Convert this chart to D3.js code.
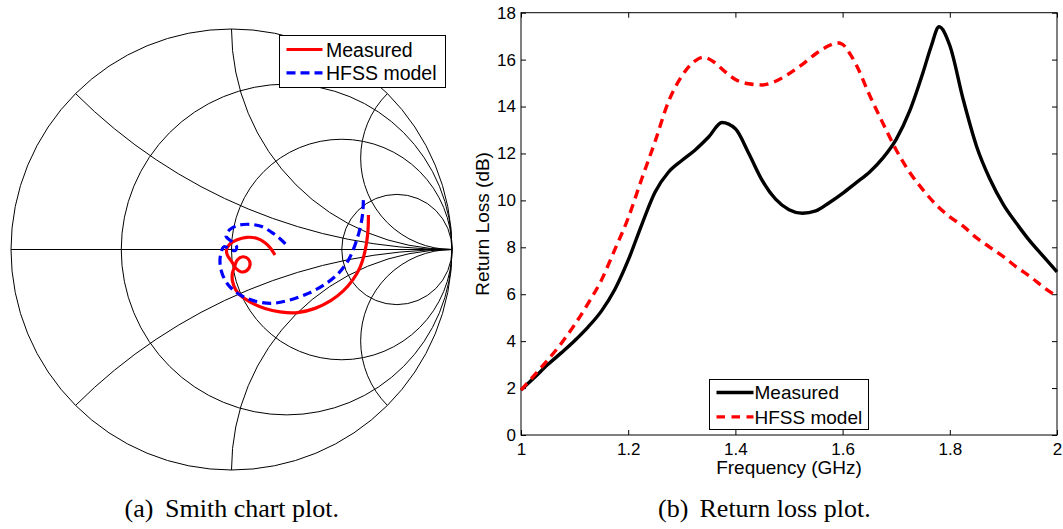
<!DOCTYPE html>
<html>
<head>
<meta charset="utf-8">
<script src="https://cdn.jsdelivr.net/npm/d3@7"></script>
<style>
  html, body { margin: 0; padding: 0; background: #fff; }
  svg { display: block; }
  text { font-family: "Liberation Sans", Arial, Helvetica, sans-serif; fill: #000; }
  .caption { font-family: "Liberation Serif", "Times New Roman", serif; }
</style>
</head>
<body>
<svg id="fig" width="1063" height="529"></svg>
<script>
// ---------- Smith chart data (reflection coefficient, real / imaginary) ----------
const smithResistance = [1 / 3, 1, 3];
const smithReactance = [Math.SQRT2 - 1, 1, Math.SQRT2 + 1];

const measuredGammaRe = [0.621, 0.618, 0.605, 0.583, 0.550, 0.507, 0.450, 0.379, 0.299, 0.220,
  0.152, 0.096, 0.051, 0.020, 0.005, 0.004, 0.013, 0.026, 0.051, 0.076, 0.084, 0.069, 0.042,
  0.020, 0.001, -0.019, -0.022, -0.007, 0.023, 0.069, 0.114, 0.152, 0.178, 0.197];
const measuredGammaIm = [0.156, 0.073, -0.010, -0.081, -0.138, -0.188, -0.232, -0.267, -0.286, -0.283,
  -0.268, -0.244, -0.217, -0.184, -0.146, -0.108, -0.081, -0.048, -0.033, -0.043, -0.070, -0.096, -0.101,
  -0.085, -0.055, -0.025, 0.001, 0.025, 0.043, 0.055, 0.051, 0.031, 0.005, -0.025];

const hfssGammaRe = [0.598, 0.595, 0.583, 0.560, 0.530, 0.485, 0.424, 0.348, 0.265, 0.182,
  0.099, 0.039, -0.010, -0.040, -0.052, -0.048, -0.034, -0.007, 0.017, 0.023, 0.001, -0.025,
  -0.007, 0.031, 0.084, 0.137, 0.182, 0.220, 0.253];
const hfssGammaIm = [0.224, 0.164, 0.096, 0.020, -0.048, -0.108, -0.158, -0.199, -0.229, -0.244,
  -0.232, -0.206, -0.166, -0.116, -0.063, -0.017, 0.013, 0.002, -0.005, 0.013, 0.036, 0.061,
  0.091, 0.110, 0.114, 0.104, 0.078, 0.049, 0.017];

// ---------- Return loss data ----------
const measuredFreq = [1.00, 1.025, 1.05, 1.075, 1.10, 1.125, 1.15, 1.175, 1.20, 1.225, 1.25, 1.275,
  1.30, 1.325, 1.35, 1.375, 1.40, 1.425, 1.45, 1.475, 1.50, 1.525, 1.55, 1.575, 1.60, 1.625, 1.65,
  1.675, 1.70, 1.725, 1.75, 1.765, 1.78, 1.80, 1.825, 1.85, 1.875, 1.90, 1.925, 1.95, 1.975, 2.00];
const measuredRL = [1.92, 2.45, 3.0, 3.5, 4.02, 4.6, 5.28, 6.2, 7.45, 8.95, 10.35, 11.2,
  11.7, 12.15, 12.7, 13.32, 13.05, 12.0, 10.85, 10.05, 9.6, 9.45, 9.55, 9.9, 10.3, 10.75, 11.2,
  11.8, 12.6, 13.8, 15.45, 16.55, 17.4, 16.6, 14.3, 12.3, 10.9, 9.82, 9.0, 8.25, 7.6, 6.95];

const hfssFreq = [1.00, 1.025, 1.05, 1.075, 1.10, 1.125, 1.15, 1.175, 1.20, 1.225, 1.25, 1.275,
  1.30, 1.325, 1.34, 1.36, 1.38, 1.40, 1.425, 1.45, 1.475, 1.50, 1.525, 1.55, 1.575, 1.59, 1.60,
  1.615, 1.625, 1.65, 1.675, 1.70, 1.725, 1.75, 1.775, 1.80, 1.825, 1.85, 1.875, 1.90, 1.925, 1.95,
  1.975, 2.00];
const hfssRL = [1.92, 2.55, 3.2, 3.9, 4.7, 5.6, 6.6, 7.9, 9.25, 10.9, 12.5, 14.2,
  15.3, 15.95, 16.1, 15.9, 15.5, 15.15, 14.97, 14.92, 15.08, 15.4, 15.8, 16.25, 16.6, 16.72, 16.65,
  16.2, 15.8, 14.5, 13.3, 12.15, 11.2, 10.45, 9.8, 9.3, 8.9, 8.4, 8.0, 7.6, 7.15, 6.75,
  6.3, 5.9];

const xTickValues = [1, 1.2, 1.4, 1.6, 1.8, 2];
const xTickLabels = ["1", "1.2", "1.4", "1.6", "1.8", "2"];
const yTickValues = [0, 2, 4, 6, 8, 10, 12, 14, 16, 18];
const yTickLabels = ["0", "2", "4", "6", "8", "10", "12", "14", "16", "18"];

const seriesNames = ["Measured", "HFSS model"];

const svg = d3.select("#fig");

// =====================================================================
// (a) Smith chart
// =====================================================================
const smith = svg.append("g");
const gx = d3.scaleLinear().domain([-1, 1]).range([11, 452]);
const gy = d3.scaleLinear().domain([-1, 1]).range([470, 29]);
const unit = gx(1) - gx(0);

smith.append("clipPath").attr("id", "unitDisk")
  .append("circle").attr("cx", gx(0)).attr("cy", gy(0)).attr("r", unit);

const grid = smith.append("g").attr("fill", "none").attr("stroke", "#000").attr("stroke-width", 1);

// reactance arcs (circles centred at (1, 1/x), clipped to the unit disk)
const reactAll = smithReactance.flatMap(x => [x, -x]);
grid.append("g").attr("clip-path", "url(#unitDisk)")
  .selectAll("circle").data(reactAll).join("circle")
  .attr("cx", gx(1))
  .attr("cy", d => gy(1 / d))
  .attr("r", d => unit / Math.abs(d));

// real axis
grid.append("line")
  .attr("x1", gx(-1)).attr("x2", gx(1))
  .attr("y1", gy(0)).attr("y2", gy(0));

// constant resistance circles
grid.selectAll("circle.res").data(smithResistance).join("circle")
  .attr("class", "res")
  .attr("cx", d => gx(d / (1 + d)))
  .attr("cy", gy(0))
  .attr("r", d => unit / (1 + d));

// outer boundary |Gamma| = 1
grid.append("circle").attr("cx", gx(0)).attr("cy", gy(0)).attr("r", unit);

const smithLine = d3.line()
  .x(d => gx(d[0])).y(d => gy(d[1]))
  .curve(d3.curveCatmullRom.alpha(0.5));

const measuredGamma = d3.zip(measuredGammaRe, measuredGammaIm);
const hfssGamma = d3.zip(hfssGammaRe, hfssGammaIm);

smith.append("path").datum(measuredGamma)
  .attr("d", smithLine).attr("fill", "none")
  .attr("stroke", "#ff0000").attr("stroke-width", 3.2)
  .attr("stroke-linejoin", "round");

smith.append("path").datum(hfssGamma)
  .attr("d", smithLine).attr("fill", "none")
  .attr("stroke", "#0000ff").attr("stroke-width", 3.2)
  .attr("stroke-dasharray", "9,5");

// legend
const smithLeg = smith.append("g").attr("transform", "translate(279.5,35.5)");
smithLeg.append("rect").attr("width", 166).attr("height", 52)
  .attr("fill", "#fff").attr("stroke", "#000").attr("stroke-width", 1);
const smithLegStyles = [
  { color: "#ff0000", dash: null },
  { color: "#0000ff", dash: "9,5" }
];
seriesNames.forEach((name, i) => {
  const yy = 14 + i * 23.4;
  smithLeg.append("line")
    .attr("x1", 7).attr("x2", 43).attr("y1", yy).attr("y2", yy)
    .attr("stroke", smithLegStyles[i].color).attr("stroke-width", 3.2)
    .attr("stroke-dasharray", smithLegStyles[i].dash);
  smithLeg.append("text")
    .attr("x", 46.5).attr("y", yy).attr("dy", "0.36em")
    .attr("font-size", 19.5).text(name);
});

// =====================================================================
// (b) Return loss plot
// =====================================================================
const plot = svg.append("g");
const x = d3.scaleLinear().domain([1, 2]).range([521, 1057]);
const y = d3.scaleLinear().domain([0, 18]).range([435, 12.7]);
const tickFont = 17;

const xAxis = plot.append("g").attr("transform", `translate(0,${y(0)})`)
  .call(d3.axisBottom(x).tickValues(xTickValues)
    .tickFormat((d, i) => xTickLabels[i])
    .tickSizeInner(-5).tickSizeOuter(0).tickPadding(8));
const yAxis = plot.append("g").attr("transform", `translate(${x(1)},0)`)
  .call(d3.axisLeft(y).tickValues(yTickValues)
    .tickFormat((d, i) => yTickLabels[i])
    .tickSizeInner(-5).tickSizeOuter(0).tickPadding(5));
const xTop = plot.append("g").attr("transform", `translate(0,${y(18)})`)
  .call(d3.axisTop(x).tickValues(xTickValues).tickFormat("")
    .tickSizeInner(-5).tickSizeOuter(0));
const yRight = plot.append("g").attr("transform", `translate(${x(2)},0)`)
  .call(d3.axisRight(y).tickValues(yTickValues).tickFormat("")
    .tickSizeInner(-5).tickSizeOuter(0));

[xAxis, yAxis, xTop, yRight].forEach(a => {
  a.select(".domain").remove();
  a.selectAll("line").attr("stroke", "#000");
  a.selectAll("text")
    .attr("font-size", tickFont)
    .attr("font-family", "'Liberation Sans', Arial, sans-serif")
    .attr("fill", "#000");
});

plot.append("rect")
  .attr("x", x(1)).attr("y", y(18))
  .attr("width", x(2) - x(1)).attr("height", y(0) - y(18))
  .attr("fill", "none").attr("stroke", "#000").attr("stroke-width", 1);

const rlLine = d3.line()
  .x(d => x(d[0])).y(d => y(d[1]))
  .curve(d3.curveMonotoneX);

plot.append("path").datum(d3.zip(measuredFreq, measuredRL))
  .attr("d", rlLine).attr("fill", "none")
  .attr("stroke", "#000").attr("stroke-width", 3.4)
  .attr("stroke-linejoin", "round");

plot.append("path").datum(d3.zip(hfssFreq, hfssRL))
  .attr("d", rlLine).attr("fill", "none")
  .attr("stroke", "#ff0000").attr("stroke-width", 3.4)
  .attr("stroke-dasharray", "9,6");

// axis titles
plot.append("text")
  .attr("x", (x(1) + x(2)) / 2).attr("y", 474)
  .attr("text-anchor", "middle").attr("font-size", 19)
  .text("Frequency (GHz)");
plot.append("text")
  .attr("transform", `translate(489,${(y(0) + y(18)) / 2}) rotate(-90)`)
  .attr("text-anchor", "middle").attr("font-size", 19)
  .text("Return Loss (dB)");

// legend
const rlLeg = plot.append("g").attr("transform", "translate(709.5,379.5)");
rlLeg.append("rect").attr("width", 159).attr("height", 50)
  .attr("fill", "#fff").attr("stroke", "#000").attr("stroke-width", 1);
const rlLegStyles = [
  { color: "#000", dash: null },
  { color: "#ff0000", dash: "8.5,6.5" }
];
seriesNames.forEach((name, i) => {
  const yy = 13 + i * 24.4;
  rlLeg.append("line")
    .attr("x1", 7).attr("x2", 44).attr("y1", yy).attr("y2", yy)
    .attr("stroke", rlLegStyles[i].color).attr("stroke-width", 3.4)
    .attr("stroke-dasharray", rlLegStyles[i].dash);
  rlLeg.append("text")
    .attr("x", 45).attr("y", yy).attr("dy", "0.36em")
    .attr("font-size", 19).text(name);
});

// =====================================================================
// captions
// =====================================================================
const captions = [
  { tag: "(a)", text: "Smith chart plot.", x0: 124.5, x1: 165 },
  { tag: "(b)", text: "Return loss plot.", x0: 658, x1: 699.5 }
];
captions.forEach(c => {
  const t = svg.append("text").attr("class", "caption")
    .attr("y", 517).attr("font-size", 26);
  t.append("tspan").attr("x", c.x0).text(c.tag);
  t.append("tspan").attr("x", c.x1).text(c.text);
});
</script>
</body>
</html>
